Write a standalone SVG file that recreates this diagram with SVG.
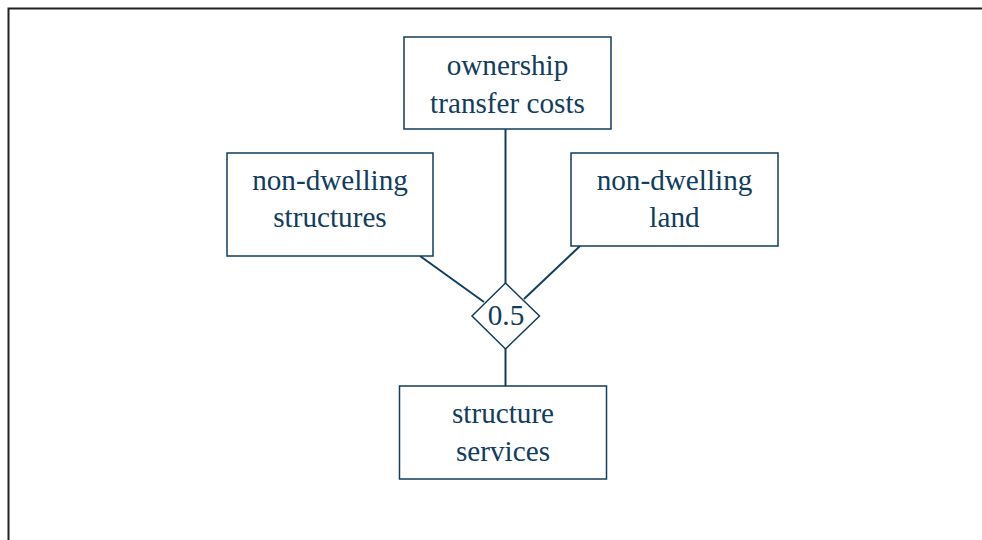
<svg xmlns="http://www.w3.org/2000/svg" width="982" height="540" viewBox="0 0 982 540">
<style>
.box{fill:#ffffff;stroke:#123d5e;stroke-width:1.5}
.t{font-family:'Liberation Serif','Times New Roman',serif;font-size:29.2px;fill:#123d5e;text-anchor:middle}
.c{stroke:#123d5e;stroke-width:2;fill:none}
</style>
<rect x="8.5" y="8.5" width="1000" height="560" fill="#ffffff" stroke="#222222" stroke-width="2"/>
<g id="connectors">
<line class="c" x1="505.5" y1="129" x2="505.5" y2="283"/>
<line class="c" x1="420" y1="256" x2="484" y2="302"/>
<line class="c" x1="580" y1="246" x2="524" y2="299"/>
<line class="c" x1="505.5" y1="349" x2="505.5" y2="386"/>
</g>
<g id="ownership">
<rect class="box" x="404" y="37" width="207" height="92"/>
<text class="t" x="507.5" y="75">ownership</text>
<text class="t" x="507.5" y="113">transfer costs</text>
</g>
<g id="structures">
<rect class="box" x="227" y="153" width="206" height="103"/>
<text class="t" x="330" y="190">non-dwelling</text>
<text class="t" x="330" y="227">structures</text>
</g>
<g id="land">
<rect class="box" x="571" y="153" width="207" height="93"/>
<text class="t" x="674.5" y="190">non-dwelling</text>
<text class="t" x="674.5" y="227">land</text>
</g>
<g id="ces">
<polygon class="box" points="505.5,283 539.5,316 505.5,349 472,316"/>
<text class="t" x="506" y="325">0.5</text>
</g>
<g id="services">
<rect class="box" x="399.5" y="386" width="207" height="93"/>
<text class="t" x="503" y="423">structure</text>
<text class="t" x="503" y="461">services</text>
</g>
</svg>
